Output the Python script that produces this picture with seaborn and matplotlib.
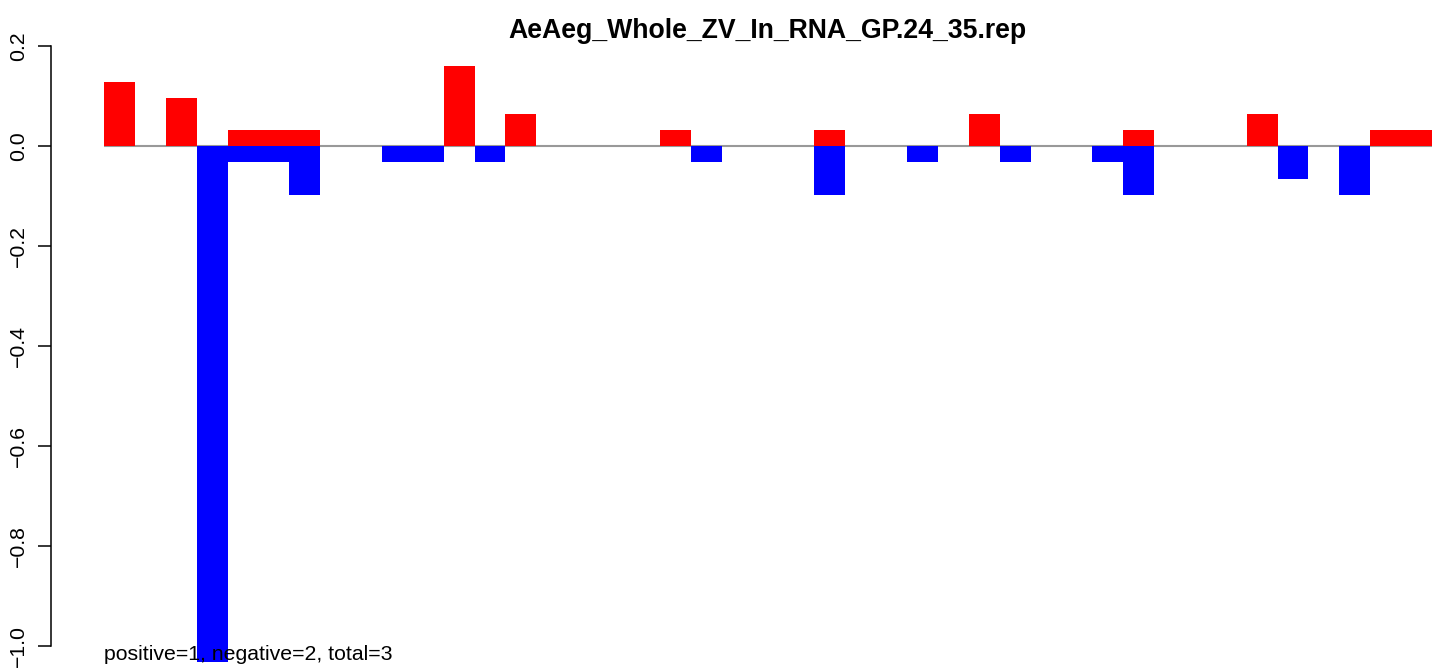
import matplotlib
matplotlib.use("Agg")
import matplotlib.pyplot as plt
import seaborn as sns
import pandas as pd

# --- data ---
positions = list(range(1, 44))
pos_values = [0.129, 0, 0.097, 0, 0.032, 0.032, 0.032, 0, 0, 0,
              0, 0.161, 0, 0.065, 0, 0, 0, 0, 0.032, 0,
              0, 0, 0, 0.032, 0, 0, 0, 0, 0.065, 0,
              0, 0, 0, 0.032, 0, 0, 0, 0.065, 0, 0,
              0, 0.032, 0.032]
neg_values = [0, 0, 0, -1.032, -0.032, -0.032, -0.097, 0, 0, -0.032,
              -0.032, 0, -0.032, 0, 0, 0, 0, 0, 0, -0.032,
              0, 0, 0, -0.097, 0, 0, -0.032, 0, 0, -0.032,
              0, 0, -0.032, -0.097, 0, 0, 0, 0, -0.065, 0,
              -0.097, 0, 0]
y_ticks = [0.2, 0.0, -0.2, -0.4, -0.6, -0.8, -1.0]
title = "AeAeg_Whole_ZV_In_RNA_GP.24_35.rep"
note = "positive=1, negative=2, total=3"

sns.set_style("white")
plt.rcParams['font.family'] = ['Liberation Sans', 'DejaVu Sans']
plt.rcParams['text.color'] = 'black'

W, H = 1433, 668
fig = plt.figure(figsize=(W / 100, H / 100), dpi=100)
ax = fig.add_axes([51 / W, 0, 1 - 51 / W, 1 - 22 / H])

df = pd.DataFrame({"pos": positions, "positive": pos_values, "negative": neg_values})

ax.hlines(0, -0.5, 42.5, color="#999999", lw=1.5, zorder=1)
sns.barplot(data=df, x="pos", y="positive", color="#ff0000", saturation=1,
            width=1, linewidth=0, ax=ax, zorder=2)
sns.barplot(data=df, x="pos", y="negative", color="#0000ff", saturation=1,
            width=1, linewidth=0, ax=ax, zorder=2)

# pixel mapping: bar 1 starts at px 104, bar width ~30.88 px, 500 px per unit in y
bw = (1432 - 104) / 43
ax.set_xlim(-0.5 - (104 - 51) / bw, -0.5 + (W - 104) / bw)
ax.set_ylim(-(H - 146) / 500, (146 - 22) / 500)

ax.set_xlabel("")
ax.set_ylabel("")
ax.set_xticks([])
ax.set_yticks(y_ticks)
ax.set_yticklabels([f"{v:.1f}".replace("-", "\u2212") for v in y_ticks],
                   rotation=90, va="center", fontsize=15.3, color="black")
ax.tick_params(axis="y", left=True, length=9.5, width=1.1, pad=7, color="black")
for s in ["top", "right", "bottom"]:
    ax.spines[s].set_visible(False)
ax.spines["left"].set_bounds(-1.0, 0.2)
ax.spines["left"].set_linewidth(1.1)
ax.spines["left"].set_color("black")
ax.patch.set_alpha(0)

fig.text(767 / W, 1 - 31 / H, title, ha="center", va="center",
         fontsize=19.2, fontweight="bold", color="black")
fig.text(104 / W, 1 - 655 / H, note, ha="left", va="center",
         fontsize=15.3, color="black")

fig.savefig("out.png", dpi=100)
